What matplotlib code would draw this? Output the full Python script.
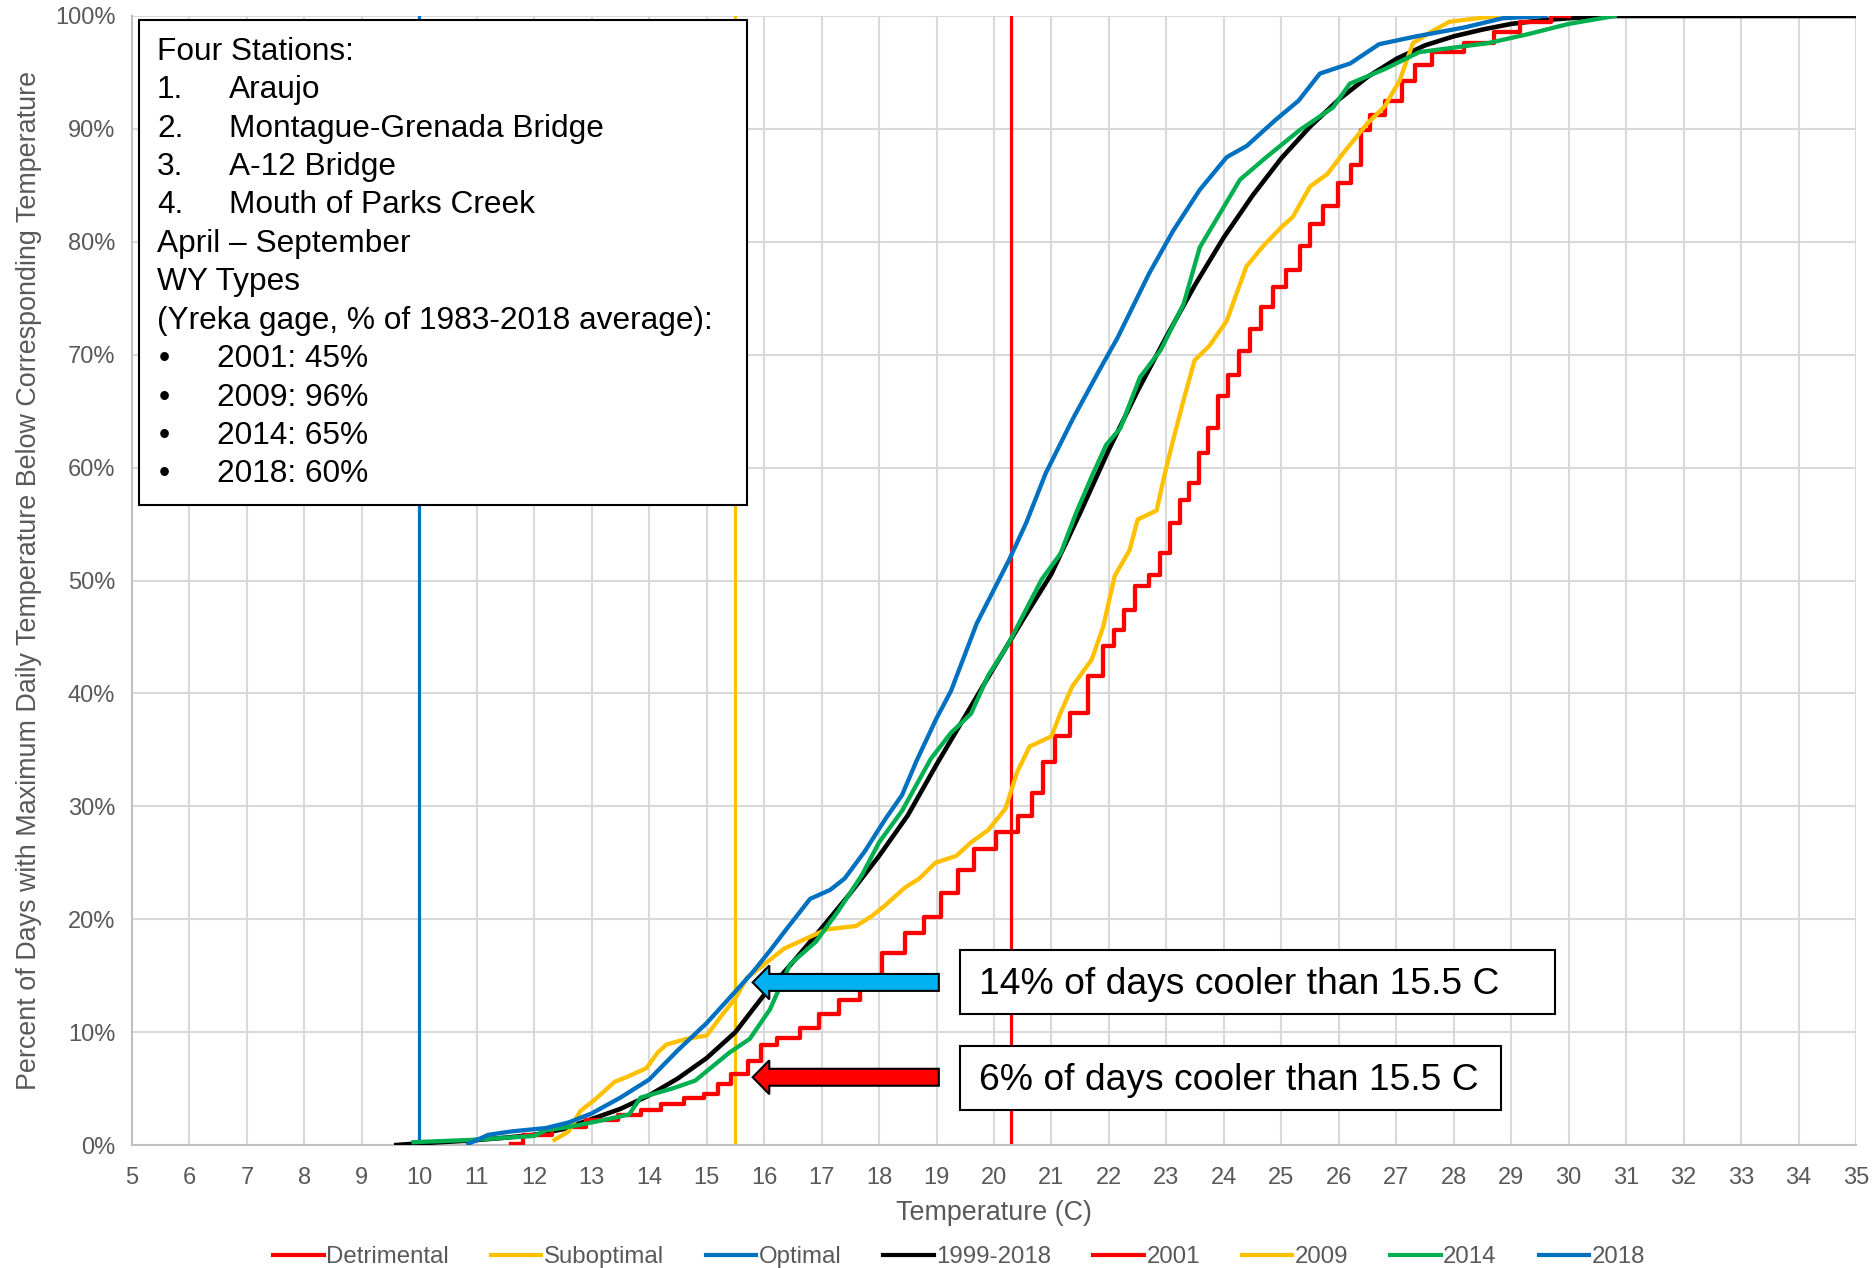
import matplotlib.pyplot as plt
from matplotlib.patches import Rectangle, FancyArrow
from matplotlib.ticker import PercentFormatter, MultipleLocator

# --- data (temperature in C, percent of days below) ---
t_avg = [9.6, 10.0, 10.9, 11.5, 12.0, 12.5, 13.0, 13.5, 14.0, 14.5, 15.0, 15.5, 16.0, 16.5,
         17.0, 17.5, 18.0, 18.5, 19.0, 19.5, 20.0, 20.5, 21.0, 21.5, 22.0, 22.5, 23.0, 23.5,
         24.0, 24.5, 25.0, 25.5, 26.0, 26.5, 27.0, 27.5, 28.0, 28.5, 29.0, 29.5, 30.0, 30.7, 35.0]
p_avg = [0, 0.15, 0.4, 0.65, 0.9, 1.4, 2.3, 3.2, 4.4, 5.9, 7.7, 10.0, 13.3, 16.2,
         19.2, 22.3, 25.6, 29.2, 33.7, 38.0, 42.3, 46.5, 50.6, 56.0, 61.6, 66.8, 71.6, 76.2,
         80.4, 84.1, 87.4, 90.2, 92.6, 94.6, 96.2, 97.4, 98.2, 98.8, 99.3, 99.6, 99.8, 100, 100]

t_2001 = [11.6, 12.0, 12.6, 13.2, 13.7, 14.0, 14.4, 14.8, 15.1, 15.3, 15.55, 15.9, 16.0, 16.45,
          16.8, 17.1, 17.5, 17.85, 18.25, 18.65, 18.9, 19.25, 19.5, 19.8, 20.27, 20.56, 20.76,
          20.96, 21.16, 21.5, 21.76, 22.03, 22.16, 22.36, 22.56, 22.83, 22.96, 23.16, 23.3, 23.49,
          23.63, 23.83, 23.97, 24.16, 24.36, 24.55, 24.74, 24.97, 25.2, 25.44, 25.55, 25.9, 26.07,
          26.35, 26.43, 26.65, 26.95, 27.24, 27.4, 27.85, 28.5, 28.9, 29.4, 30.0]
p_2001 = [0.1, 0.9, 1.6, 2.2, 2.7, 3.1, 3.6, 4.2, 4.5, 5.4, 6.3, 7.4, 8.9, 9.5,
          10.4, 11.6, 12.8, 14.9, 17.0, 18.8, 20.2, 22.3, 24.4, 26.2, 27.7, 29.1, 31.2,
          33.9, 36.2, 38.3, 41.5, 44.2, 45.6, 47.4, 49.5, 50.5, 52.4, 55.1, 57.1, 58.6,
          61.3, 63.5, 66.3, 68.2, 70.3, 72.3, 74.2, 76.0, 77.5, 79.6, 81.6, 83.2, 85.2,
          86.8, 89.9, 91.2, 92.5, 94.2, 95.7, 96.8, 97.6, 98.6, 99.5, 100]

t_2009 = [12.35, 12.6, 12.8, 13.05, 13.4, 13.6, 13.95, 14.15, 14.3, 14.65, 15.0, 15.28, 15.5,
          15.7, 16.0, 16.35, 16.78, 17.09, 17.6, 17.88, 18.1, 18.45, 18.7, 18.98, 19.34, 19.6,
          19.9, 20.2, 20.4, 20.62, 21.0, 21.16, 21.36, 21.7, 21.9, 22.1, 22.36, 22.5, 22.83,
          22.96, 23.1, 23.3, 23.49, 23.75, 24.05, 24.39, 24.68, 25.0, 25.2, 25.5, 25.8, 26.1,
          26.5, 26.8, 27.06, 27.29, 27.64, 27.93, 28.75]
p_2009 = [0.45, 1.2, 3.0, 4.0, 5.6, 6.0, 6.8, 8.2, 8.9, 9.4, 9.7, 11.6, 13.0,
          14.8, 16.0, 17.4, 18.4, 19.1, 19.4, 20.3, 21.2, 22.8, 23.6, 25.0, 25.6, 26.8,
          27.9, 29.8, 33.0, 35.3, 36.2, 38.3, 40.6, 43.0, 45.9, 50.4, 52.7, 55.4, 56.2,
          59.2, 62.1, 66.0, 69.5, 70.8, 73.0, 77.8, 79.6, 81.3, 82.2, 84.9, 86.0, 88.0,
          90.5, 92.0, 94.3, 97.6, 98.7, 99.5, 100]

t_2014 = [9.9, 10.9, 12.0, 12.2, 12.6, 13.1, 13.65, 13.85, 14.4, 14.8, 15.4, 15.75, 16.1, 16.45,
          16.9, 17.3, 17.7, 18.0, 18.4, 18.9, 19.25, 19.6, 19.9, 20.23, 20.83, 21.16, 21.43,
          21.7, 21.95, 22.2, 22.54, 22.9, 23.3, 23.58, 23.93, 24.28, 24.74, 25.32, 25.9, 26.19,
          26.8, 27.4, 28.6, 29.3, 30.0, 30.8]
p_2014 = [0.25, 0.45, 0.8, 1.3, 1.6, 2.1, 2.7, 4.2, 5.0, 5.7, 8.2, 9.4, 12.0, 16.0,
          18.0, 20.8, 23.9, 26.8, 29.6, 34.2, 36.5, 38.2, 41.6, 44.2, 50.1, 52.4, 56.0,
          59.2, 62.0, 63.5, 68.0, 70.4, 74.5, 79.5, 82.5, 85.5, 87.5, 89.9, 91.9, 94.0,
          95.3, 96.8, 97.6, 98.4, 99.3, 100]

t_2018 = [10.85, 11.2, 11.6, 12.2, 12.6, 13.0, 13.5, 14.0, 14.5, 15.0, 15.5, 15.8, 16.1, 16.4,
          16.8, 17.15, 17.4, 17.75, 18.1, 18.4, 18.65, 19.0, 19.25, 19.7, 20.26, 20.56, 20.9,
          21.36, 21.83, 22.15, 22.7, 23.12, 23.58, 24.05, 24.4, 24.9, 25.3, 25.67, 26.2, 26.7,
          27.35, 28.2, 28.85, 29.6]
p_2018 = [0.1, 0.9, 1.2, 1.5, 2.0, 2.8, 4.2, 5.8, 8.4, 10.8, 13.6, 15.3, 17.2, 19.2,
          21.8, 22.6, 23.6, 26.0, 28.8, 31.0, 34.0, 37.8, 40.2, 46.2, 51.8, 55.1, 59.5,
          64.2, 68.6, 71.5, 77.2, 81.0, 84.6, 87.5, 88.5, 90.8, 92.5, 94.9, 95.8, 97.5,
          98.2, 99.0, 99.8, 100]

thresholds = {"Detrimental": 20.3, "Suboptimal": 15.5, "Optimal": 10.0}

info_lines = ["Four Stations:", ("1.", "Araujo"), ("2.", "Montague-Grenada Bridge"),
              ("3.", "A-12 Bridge"), ("4.", "Mouth of Parks Creek"), "April \u2013 September",
              "WY Types", "(Yreka gage, % of 1983-2018 average):",
              ("\u2022", "2001: 45%"), ("\u2022", "2009: 96%"), ("\u2022", "2014: 65%"),
              ("\u2022", "2018: 60%")]

RED = "#FF0000"
YEL = "#FFC000"
BLU = "#0070C0"
GRN = "#00B050"
GRAY = "#595959"

plt.rcParams['font.family'] = ['Liberation Sans', 'DejaVu Sans']

W, H = 1873, 1268
fig = plt.figure(figsize=(W / 100, H / 100), dpi=100)
ax = fig.add_axes([132 / W, (H - 1145) / H, (1856 - 132) / W, (1145 - 16) / H])

def fx(px):
    return px / W

def fy(py):
    return 1 - py / H

# threshold lines
ax.axvline(thresholds["Detrimental"], color=RED, lw=2.3, label="Detrimental", zorder=2)
ax.axvline(thresholds["Suboptimal"], color=YEL, lw=2.3, label="Suboptimal", zorder=2)
ax.axvline(thresholds["Optimal"], color=BLU, lw=2.3, label="Optimal", zorder=2)

# series
ax.plot(t_avg, p_avg, color="black", lw=3.3, label="1999-2018", zorder=3)
ax.plot(t_2001, p_2001, color=RED, lw=3.1, label="2001", drawstyle="steps-mid", zorder=3)
ax.plot(t_2009, p_2009, color=YEL, lw=3.1, label="2009", zorder=3)
ax.plot(t_2014, p_2014, color=GRN, lw=3.1, label="2014", zorder=3)
ax.plot(t_2018, p_2018, color=BLU, lw=3.1, label="2018", zorder=3)

ax.set_xlim(5, 35)
ax.set_ylim(0, 100)
ax.xaxis.set_major_locator(MultipleLocator(1))
ax.yaxis.set_major_locator(MultipleLocator(10))
ax.yaxis.set_major_formatter(PercentFormatter(100, decimals=0))
ax.grid(True, color="#D9D9D9", lw=1.5, zorder=0)
ax.set_axisbelow(True)
for s in ["top", "right"]:
    ax.spines[s].set_visible(False)
for s in ["left", "bottom"]:
    ax.spines[s].set_color("#BFBFBF")
    ax.spines[s].set_linewidth(1.5)
ax.tick_params(length=0, labelsize=17, labelcolor=GRAY, pad=12)
ax.tick_params(axis="x", pad=16)
ax.set_xlabel("Temperature (C)", fontsize=19.4, color=GRAY, labelpad=8)
ax.set_ylabel("Percent of Days with Maximum Daily Temperature Below Corresponding Temperature",
              fontsize=19.4, color=GRAY, labelpad=9)

# info box
ax.add_patch(Rectangle((fx(139), fy(505)), fx(747) - fx(139), fy(20) - fy(505),
                       transform=fig.transFigure, fc="white", ec="black", lw=1.5,
                       zorder=5, clip_on=False))
row_y = [52, 90, 129, 167, 205, 244, 282, 321, 359, 398, 436, 474]
fs_info = 22.8
for line, yy in zip(info_lines, row_y):
    if isinstance(line, tuple):
        lab, txt = line
        if lab == "\u2022":
            fig.text(fx(159), fy(yy), lab, fontsize=fs_info, va="center", zorder=6)
            fig.text(fx(217), fy(yy), txt, fontsize=fs_info, va="center", zorder=6)
        else:
            fig.text(fx(157), fy(yy), lab, fontsize=fs_info, va="center", zorder=6)
            fig.text(fx(229), fy(yy), txt, fontsize=fs_info, va="center", zorder=6)
    else:
        fig.text(fx(157), fy(yy), line, fontsize=fs_info, va="center", zorder=6)

# annotation boxes and arrows
ax.add_patch(Rectangle((fx(960), fy(1014)), fx(1555) - fx(960), fy(950) - fy(1014),
                       transform=fig.transFigure, fc="white", ec="black", lw=1.5,
                       zorder=5, clip_on=False))
fig.text(fx(979), fy(984), "14% of days cooler than 15.5 C", fontsize=26.8, va="center")
ax.add_patch(Rectangle((fx(960), fy(1110)), fx(1501) - fx(960), fy(1046) - fy(1110),
                       transform=fig.transFigure, fc="white", ec="black", lw=1.5,
                       zorder=5, clip_on=False))
fig.text(fx(979), fy(1080), "6% of days cooler than 15.5 C", fontsize=26.8, va="center")

ax.add_patch(FancyArrow(19.04, 14.4, 15.8 - 19.04, 0, width=1.5, head_width=3.0,
                        head_length=0.29, length_includes_head=True,
                        fc="#00B0F0", ec="black", lw=1.5, zorder=6))
ax.add_patch(FancyArrow(19.04, 6.0, 15.8 - 19.04, 0, width=1.5, head_width=3.0,
                        head_length=0.29, length_includes_head=True,
                        fc=RED, ec="black", lw=1.5, zorder=6))

leg = fig.legend(loc="center", bbox_to_anchor=(959 / W, fy(1257)), ncol=8, frameon=False,
                 fontsize=17.3, handlelength=2.1, handletextpad=0.1, columnspacing=1.75,
                 labelcolor=GRAY)
for h in leg.get_lines():
    h.set_linewidth(3)

fig.savefig("out.png", dpi=100)
